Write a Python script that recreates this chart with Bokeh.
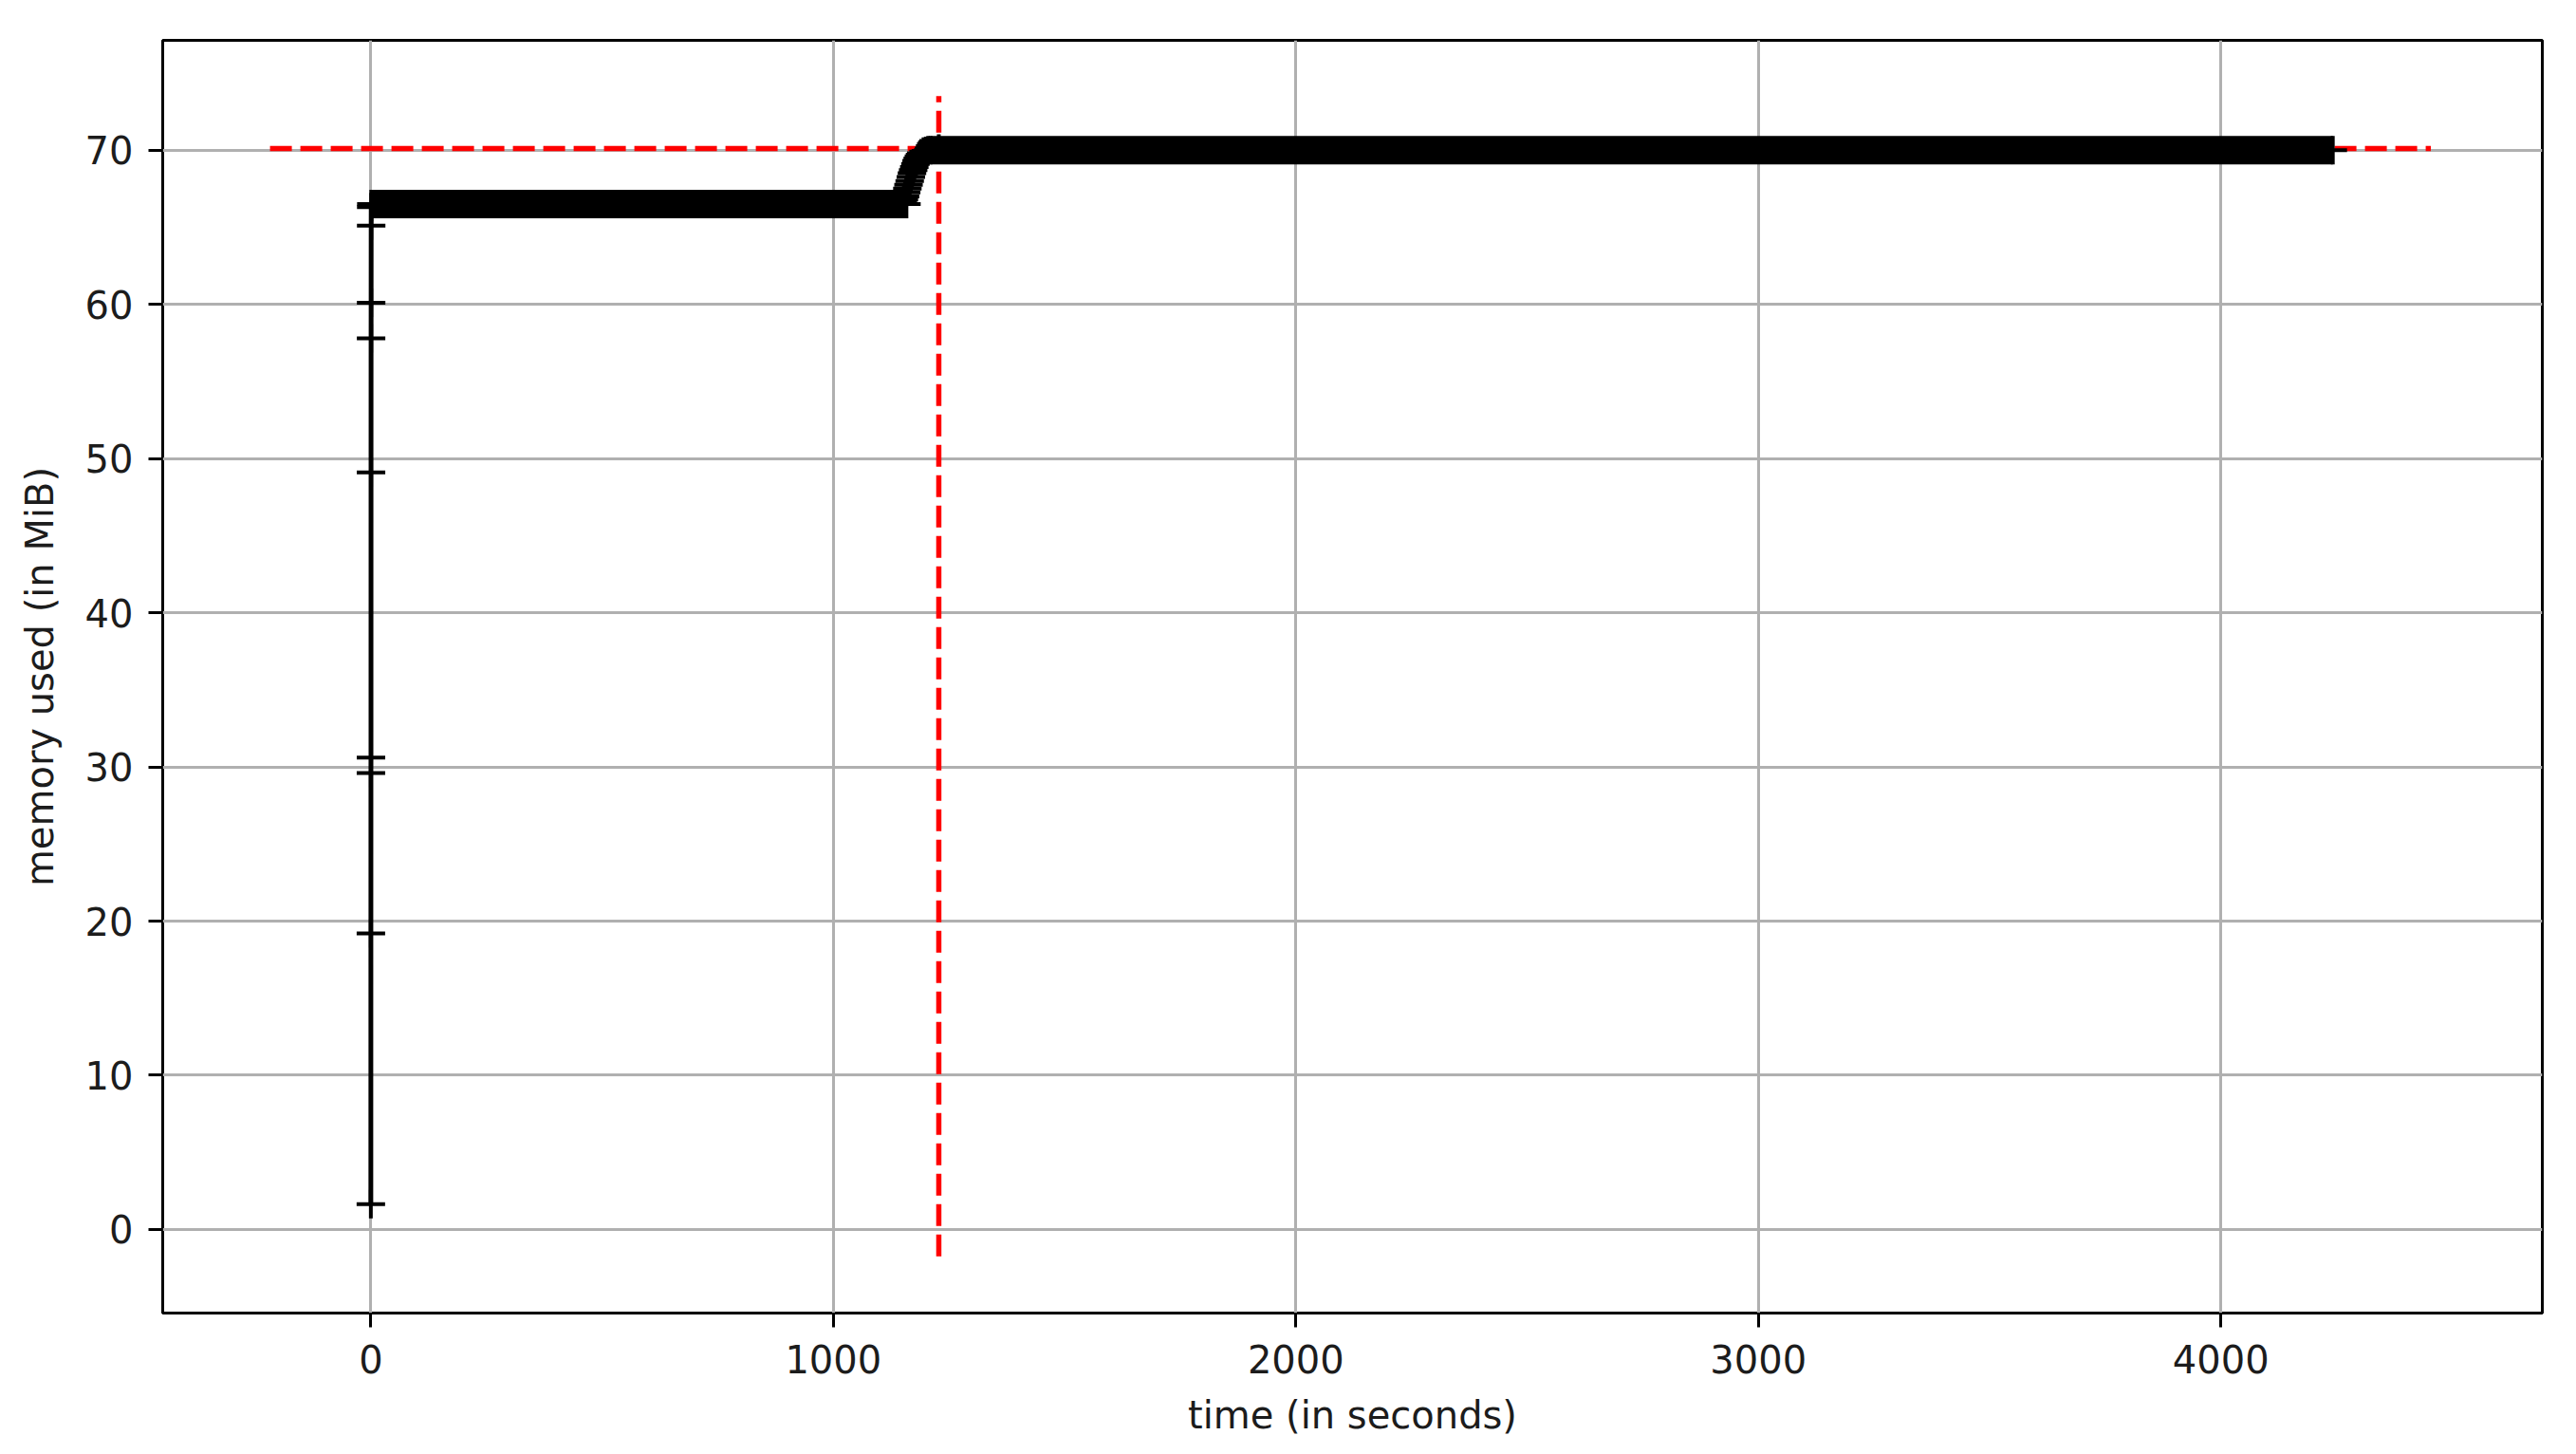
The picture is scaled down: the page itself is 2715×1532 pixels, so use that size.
import numpy as np
from bokeh.plotting import figure
from bokeh.models import Range1d, FixedTicker, ColumnDataSource
from bokeh.embed import file_html
from bokeh.resources import INLINE

# ---- data (time in seconds, memory in MiB) ----
# start-up samples (all within the first second)
ramp_time = [0.0, 0.1, 0.2, 0.3, 0.4, 0.5, 0.6, 0.7, 0.8, 1.0]
ramp_mem = [1.65, 19.2, 29.6, 30.6, 49.1, 57.8, 60.1, 65.1, 66.3, 66.5]
# second increase of memory
step_time = [1150, 1152.5, 1155, 1157.5, 1160, 1162.5, 1165, 1167.5, 1170,
             1172.5, 1175, 1177.5, 1180, 1182.5, 1185, 1187.5, 1190, 1195,
             1200, 1205, 1210]
step_mem = [66.6, 66.8, 67.0, 67.25, 67.5, 67.75, 68.0, 68.25, 68.5,
            68.7, 68.9, 69.1, 69.3, 69.45, 69.6, 69.7, 69.8, 69.9,
            69.95, 70.0, 70.0]
# maximum memory sample
max_time = 1228
max_mem = 70.1
# long stretches of (nearly) constant memory, densely sampled
plateau_start = [1.0, 1210]
plateau_end = [1158, 4242]
plateau_mem = [66.5, 70.0]
# extent of the red dashed max-memory lines
hline_x = [-218, 4454]
vline_y = [-1.75, 73.5]

x_ticks = [0, 1000, 2000, 3000, 4000]
y_ticks = [0, 10, 20, 30, 40, 50, 60, 70]

# ---- assemble the sampled series ----
t_all = ramp_time + [plateau_end[0]] + step_time + [max_time] + [plateau_end[1]]
m_all = ramp_mem + [plateau_mem[0]] + step_mem + [max_mem] + [plateau_mem[1]]
line_src = ColumnDataSource(dict(t=t_all, m=m_all))
band_src = ColumnDataSource(dict(
    x=[(a + b) / 2 for a, b in zip(plateau_start, plateau_end)],
    w=[b - a for a, b in zip(plateau_start, plateau_end)],
    y=plateau_mem,
))

FONT = "DejaVu Sans"

p = figure(
    width=2707, height=1526,
    x_range=Range1d(-450, 4695), y_range=Range1d(-5.42, 77.12),
    output_backend="svg", toolbar_location=None,
    min_border_left=171, min_border_right=28,
    min_border_top=42, min_border_bottom=143,
)
p.background_fill_color = "white"
p.border_fill_color = "white"
p.outline_line_color = "black"
p.outline_line_width = 3

for ax in (p.xaxis[0], p.yaxis[0]):
    ax.axis_line_color = None
    ax.major_tick_line_color = "black"
    ax.major_tick_line_width = 3
    ax.major_tick_in = 0
    ax.major_tick_out = 15
    ax.minor_tick_line_color = None
    ax.major_label_text_font = FONT
    ax.major_label_text_font_size = "40px"
    ax.major_label_text_color = "#1c1c1c"
    ax.axis_label_text_font = FONT
    ax.axis_label_text_font_size = "40px"
    ax.axis_label_text_font_style = "normal"
    ax.axis_label_text_color = "#1c1c1c"

p.xaxis.ticker = FixedTicker(ticks=x_ticks)
p.yaxis.ticker = FixedTicker(ticks=y_ticks)
p.xaxis.axis_label = "time (in seconds)"
p.yaxis.axis_label = "memory used (in MiB)"
p.xaxis.major_label_standoff = 18
p.xaxis.axis_label_standoff = 18
p.yaxis.major_label_standoff = 16
p.yaxis.axis_label_standoff = 22

p.xgrid.grid_line_color = "#b0b0b0"
p.ygrid.grid_line_color = "#b0b0b0"
p.xgrid.grid_line_width = 3
p.ygrid.grid_line_width = 3

# red dashed lines at the maximum
p.segment(x0=[hline_x[0]], y0=[max_mem], x1=[hline_x[1]], y1=[max_mem],
          line_color="red", line_width=5.5, line_dash="23 9")
p.segment(x0=[max_time], y0=[vline_y[0]], x1=[max_time], y1=[vline_y[1]],
          line_color="red", line_width=5.5, line_dash="23 9")

# dense '+' samples form a solid band as tall as a marker
p.rect(x="x", y="y", width="w", height=30, height_units="screen",
       source=band_src, fill_color="black", line_color=None)
p.line("t", "m", source=line_src, line_color="black", line_width=5)
p.scatter("t", "m", source=line_src, marker="cross", size=30,
          line_color="black", line_width=4)

open("out.html", "w").write(file_html(p, INLINE))
